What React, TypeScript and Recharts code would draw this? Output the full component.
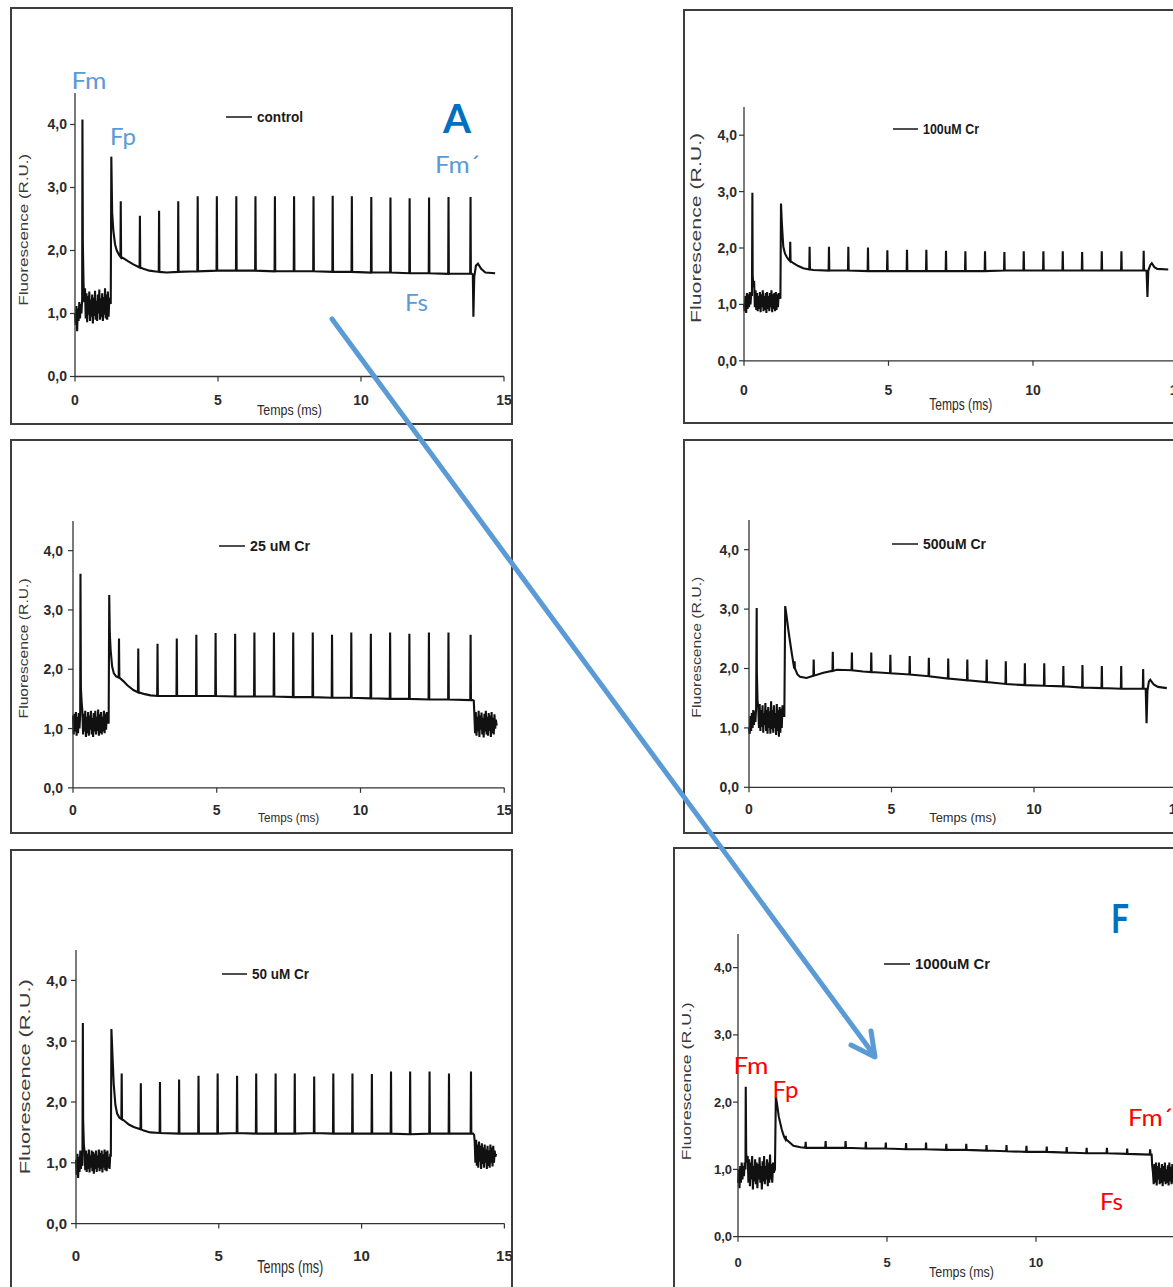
import React from 'react';
import { LineChart, Line, XAxis, YAxis, Legend } from 'recharts';

type Pair = [number, number];

// ms between samples in the noisy (dark / far-red) segments
const SAMPLE = 0.025;
// half width of a saturating pulse spike, ms
const PULSE_HALF = 0.012;

// saturating pulse schedule, same protocol for every treatment
const pulseTimes = [1.6, 2.27, 2.94, 3.61, 4.29, 4.96, 5.64, 6.31, 6.99, 7.66, 8.34, 9.01, 9.68, 10.36, 11.03, 11.7, 12.38, 13.06, 13.83];
const xTicks = [0, 5, 10, 15];
const yTicks = [0, 1, 2, 3, 4];

// ---- control ----
const ctrlDark = [
  1.0, 0.82, 1.12, 0.72, 1.08, 0.88, 1.18, 0.92, 1.15, 1.0,
  1.22, 2.1, 1.45, 1.18, 1.4, 0.92, 1.32, 0.86, 1.28, 0.98,
  1.35, 0.88, 1.22, 0.95, 1.3, 0.84, 1.25, 0.96, 1.36, 0.9,
  1.2, 0.88, 1.3, 1.0, 1.38, 0.9, 1.24, 0.94, 1.32, 0.88,
  1.26, 0.98, 1.4, 0.92, 1.3, 0.9, 1.35, 0.95, 1.25,
];
const ctrlFm: Pair = [0.26, 4.08];
const ctrlInduction: Pair[] = [
  [1.25, 1.15], [1.27, 3.49], [1.3, 2.6], [1.34, 2.32], [1.4, 2.1], [1.46, 2.0], [1.54, 1.93],
  [1.69, 1.88], [1.85, 1.83], [2.04, 1.78], [2.39, 1.71], [2.6, 1.68], [3.2, 1.65],
];
const ctrlPulseTop = [2.78, 2.55, 2.63, 2.78, 2.86, 2.86, 2.86, 2.86, 2.86, 2.86, 2.86, 2.87, 2.86, 2.85, 2.84, 2.83, 2.84, 2.85, 2.85];
const ctrlPulseBase = [1.9, 1.73, 1.66, 1.66, 1.67, 1.68, 1.68, 1.68, 1.67, 1.67, 1.67, 1.66, 1.66, 1.65, 1.65, 1.64, 1.64, 1.63, 1.63];
const ctrlTail: Pair[] = [
  [13.88, 1.63], [13.91, 1.62], [13.93, 0.95], [13.96, 1.58], [14.02, 1.76], [14.09, 1.79],
  [14.2, 1.71], [14.35, 1.65], [14.69, 1.64],
];

// ---- 25 uM Cr ----
const cr25Dark = [
  1.22, 0.9, 1.25, 0.95, 1.28, 0.88, 1.2, 0.92, 1.26, 1.0,
  1.24, 1.68, 1.45, 1.3, 0.9, 1.25, 0.95, 1.3, 0.86, 1.2,
  0.92, 1.28, 0.88, 1.22, 0.98, 1.3, 0.9, 1.18, 0.86, 1.26,
  0.95, 1.3, 0.9, 1.2, 0.96, 1.32, 0.88, 1.24, 0.92, 1.28,
  0.9, 1.2, 0.95, 1.3, 0.92, 1.25, 0.98, 1.28, 1.1,
];
const cr25Fm: Pair = [0.26, 3.61];
const cr25Induction: Pair[] = [
  [1.24, 1.1], [1.26, 3.25], [1.28, 2.6], [1.31, 2.32], [1.36, 2.05], [1.42, 1.93], [1.5, 1.88],
  [1.75, 1.8], [1.89, 1.73], [2.1, 1.65], [2.5, 1.58], [2.7, 1.56],
];
const cr25PulseTop = [2.52, 2.35, 2.43, 2.52, 2.58, 2.61, 2.6, 2.62, 2.62, 2.62, 2.62, 2.58, 2.62, 2.6, 2.62, 2.6, 2.62, 2.62, 2.58];
const cr25PulseBase = [1.86, 1.61, 1.55, 1.55, 1.55, 1.55, 1.54, 1.54, 1.54, 1.53, 1.53, 1.52, 1.52, 1.51, 1.5, 1.5, 1.49, 1.49, 1.48];
const cr25Tail: Pair[] = [[13.9, 1.48], [13.94, 1.47]];
const cr25TailFrom = 13.96;
const cr25TailNoise = [
  1.25, 0.92, 1.28, 0.88, 1.2, 0.95, 1.3, 0.86, 1.22, 0.98,
  1.27, 0.9, 1.18, 0.85, 1.25, 0.95, 1.3, 0.9, 1.2, 0.88,
  1.26, 0.96, 1.22, 0.86, 1.28, 0.92, 1.18, 0.9, 1.24, 1.0, 1.15, 1.05,
];

// ---- 50 uM Cr ----
const cr50Dark = [
  1.05, 0.8, 1.15, 0.75, 1.1, 0.85, 1.2, 0.9, 1.15, 0.95,
  1.72, 1.3, 1.18, 0.88, 1.2, 0.85, 1.15, 0.9, 1.22, 0.84,
  1.12, 0.92, 1.2, 0.86, 1.18, 0.82, 1.15, 0.9, 1.2, 0.85,
  1.12, 0.92, 1.22, 0.86, 1.16, 0.9, 1.2, 0.84, 1.14, 0.92,
  1.22, 0.88, 1.18, 0.86, 1.2, 0.92, 1.1, 0.9, 1.15,
];
const cr50Fm: Pair = [0.24, 3.3];
const cr50Induction: Pair[] = [
  [1.22, 1.1], [1.24, 3.2], [1.28, 2.74], [1.32, 2.3], [1.38, 1.95], [1.44, 1.81], [1.52, 1.74],
  [1.67, 1.7], [1.85, 1.63], [2.02, 1.59], [2.37, 1.53], [2.6, 1.5],
];
const cr50PulseTop = [2.47, 2.31, 2.33, 2.37, 2.43, 2.47, 2.43, 2.47, 2.47, 2.47, 2.42, 2.47, 2.47, 2.46, 2.5, 2.5, 2.5, 2.47, 2.5];
const cr50PulseBase = [1.72, 1.55, 1.49, 1.48, 1.48, 1.48, 1.49, 1.48, 1.48, 1.48, 1.49, 1.48, 1.48, 1.48, 1.48, 1.47, 1.48, 1.48, 1.48];
const cr50Tail: Pair[] = [[13.9, 1.48], [13.94, 1.46]];
const cr50TailFrom = 13.96;
const cr50TailNoise = [
  1.35, 1.0, 1.38, 0.95, 1.3, 0.92, 1.35, 1.02, 1.28, 0.9,
  1.32, 0.98, 1.25, 0.92, 1.3, 1.0, 1.22, 0.9, 1.28, 0.95,
  1.2, 0.92, 1.3, 1.0, 1.25, 0.94, 1.28, 1.0, 1.2, 1.1, 1.15,
];

// ---- 100 uM Cr ----
const cr100Dark = [
  1.0, 0.88, 1.15, 0.85, 1.2, 0.92, 1.18, 0.95, 1.22, 1.0,
  1.2, 1.15, 1.52, 1.3, 1.42, 0.95, 1.25, 0.9, 1.2, 0.88,
  1.15, 0.92, 1.22, 0.86, 1.18, 0.95, 1.25, 0.88, 1.15, 0.9,
  1.2, 0.85, 1.22, 0.92, 1.15, 0.88, 1.2, 0.95, 1.25, 0.86,
  1.18, 0.92, 1.2, 0.88, 1.22, 0.9, 1.18, 0.95, 1.2,
];
const cr100Fm: Pair = [0.29, 2.98];
const cr100Induction: Pair[] = [
  [1.26, 1.1], [1.28, 2.79], [1.31, 2.44], [1.36, 2.02], [1.42, 1.9], [1.48, 1.84], [1.55, 1.79],
  [1.71, 1.73], [1.88, 1.68], [2.05, 1.64], [2.4, 1.61],
];
const cr100PulseTop = [2.11, 2.02, 2.02, 2.02, 2.01, 1.96, 1.97, 1.97, 1.95, 1.94, 1.94, 1.93, 1.94, 1.94, 1.94, 1.93, 1.94, 1.94, 1.95];
const cr100PulseBase = [1.77, 1.62, 1.6, 1.6, 1.59, 1.59, 1.59, 1.59, 1.59, 1.59, 1.59, 1.6, 1.6, 1.6, 1.6, 1.6, 1.6, 1.6, 1.6];
const cr100Tail: Pair[] = [
  [13.9, 1.6], [13.93, 1.59], [13.96, 1.13], [13.99, 1.6], [14.06, 1.7], [14.11, 1.73],
  [14.2, 1.66], [14.3, 1.63], [14.68, 1.62],
];

// ---- 500 uM Cr ----
const cr500Dark = [
  1.0, 0.9, 1.2, 0.95, 1.25, 1.0, 1.3, 1.05, 1.28, 1.1,
  1.35, 1.95, 1.45, 1.35, 1.0, 1.4, 0.95, 1.3, 1.02, 1.38,
  0.92, 1.25, 1.05, 1.42, 0.95, 1.3, 0.9, 1.35, 1.0, 1.28,
  0.9, 1.45, 0.98, 1.3, 0.92, 1.38, 1.0, 1.25, 0.88, 1.4,
  0.95, 1.3, 0.85, 1.35, 0.92, 1.32, 1.0, 1.38, 1.2,
];
const cr500Fm: Pair = [0.27, 3.02];
const cr500Induction: Pair[] = [
  [1.24, 1.2], [1.27, 3.05], [1.3, 2.95], [1.34, 2.8], [1.38, 2.65], [1.44, 2.45], [1.5, 2.26], [1.56, 2.08],
  [1.7, 1.9], [1.79, 1.86], [2.02, 1.84], [2.61, 1.93], [3.08, 1.98], [4.0, 1.95],
];
const cr500PulseTop = [2.12, 2.15, 2.28, 2.27, 2.27, 2.23, 2.21, 2.18, 2.17, 2.15, 2.15, 2.12, 2.09, 2.09, 2.04, 2.06, 2.04, 2.04, 1.99];
const cr500PulseBase = [2.0, 1.88, 1.96, 1.97, 1.94, 1.92, 1.9, 1.87, 1.83, 1.8, 1.77, 1.74, 1.72, 1.71, 1.7, 1.68, 1.67, 1.66, 1.66];
const cr500Tail: Pair[] = [
  [13.9, 1.66], [13.92, 1.66], [13.95, 1.08], [13.98, 1.62], [14.03, 1.78], [14.08, 1.81],
  [14.2, 1.73], [14.35, 1.69], [14.66, 1.67],
];

// ---- 1000 uM Cr ----
const cr1000Dark = [
  0.8, 1.0, 0.72, 1.05, 0.8, 1.1, 0.85, 1.05, 0.9, 1.1,
  1.0, 1.25, 1.1, 1.2, 0.8, 1.15, 0.75, 1.1, 0.85, 1.2,
  0.7, 1.05, 0.82, 1.15, 0.78, 1.1, 0.72, 1.08, 0.85, 1.18,
  0.8, 1.05, 0.7, 1.12, 0.82, 1.2, 0.78, 1.05, 0.85, 1.15,
  0.75, 1.1, 0.8, 1.22, 0.85, 1.08, 0.8, 1.1, 0.95,
];
const cr1000Fm: Pair = [0.26, 2.23];
const cr1000Induction: Pair[] = [
  [1.24, 1.0], [1.27, 2.08], [1.3, 2.0], [1.37, 1.78], [1.47, 1.59], [1.55, 1.48],
  [1.63, 1.44], [1.86, 1.35], [2.1, 1.33],
];
const cr1000PulseTop = [1.5, 1.41, 1.42, 1.42, 1.41, 1.4, 1.39, 1.4, 1.38, 1.38, 1.36, 1.36, 1.35, 1.34, 1.33, 1.32, 1.32, 1.31, 1.3];
const cr1000PulseBase = [1.45, 1.32, 1.32, 1.32, 1.31, 1.31, 1.3, 1.3, 1.29, 1.29, 1.28, 1.27, 1.26, 1.26, 1.25, 1.24, 1.24, 1.23, 1.22];
const cr1000Tail: Pair[] = [[13.88, 1.22], [13.9, 1.05]];
const cr1000TailFrom = 13.925;
const cr1000TailNoise = [
  0.95, 0.78, 1.08, 0.8, 1.1, 0.76, 1.05, 0.85, 1.1, 0.78,
  1.02, 0.8, 1.08, 0.75, 1.05, 0.82, 1.1, 0.78, 1.0, 0.8,
  1.06, 0.76, 1.1, 0.82, 1.04, 0.78, 1.08, 0.8, 1.02, 0.77,
  1.06, 0.84, 1.1, 0.8, 1.0, 0.78, 1.05,
];

interface Series {
  dark: number[];
  fm: Pair;
  induction: Pair[];
  pulseTop: number[];
  pulseBase: number[];
  tail: Pair[];
  tailFrom?: number;
  tailNoise?: number[];
}

type Pt = { t: number; f: number };

// merge the pieces of a PAM trace into one time-ordered series
function buildTrace(s: Series): Pt[] {
  const pts: Pt[] = s.dark.map((f, i) => ({ t: i * SAMPLE, f }));
  pts.push({ t: s.fm[0], f: s.fm[1] });
  s.induction.forEach(([t, f]) => pts.push({ t, f }));
  pulseTimes.forEach((t, i) => {
    pts.push({ t: t - PULSE_HALF, f: s.pulseBase[i] });
    pts.push({ t, f: s.pulseTop[i] });
    pts.push({ t: t + PULSE_HALF, f: s.pulseBase[i] });
  });
  s.tail.forEach(([t, f]) => pts.push({ t, f }));
  (s.tailNoise || []).forEach((f, i) => pts.push({ t: (s.tailFrom || 0) + i * SAMPLE, f }));
  return pts.sort((a, b) => a.t - b.t);
}

const FONT = "'Liberation Sans', Arial, sans-serif";
const ANNOT_FONT = "Lato, 'Open Sans', sans-serif";
const AXIS = '#333';
const INK = '#2b2b2b';

const Y_AXIS_W = 64;
const M_TOP = 12;
const M_RIGHT = 14;
const X_AXIS_H = 62;

interface Panel {
  id: string;
  name: string;
  series: Series;
  frame: [number, number, number, number];
  x0: number; pxu: number; y0: number; pyu: number;
  tickFs: number; yTickGap: number; xTickGap: number;
  yTitle: { x: number; dy: number; len: number; fs: number };
  xTitle: { dy: number; len: number; fs: number };
  legend: { x: number; y: number; line: number; len: number; fs: number };
}

const panels: Panel[] = [
  {
    id: 'ctrl', name: 'control',
    series: { dark: ctrlDark, fm: ctrlFm, induction: ctrlInduction, pulseTop: ctrlPulseTop, pulseBase: ctrlPulseBase, tail: ctrlTail },
    frame: [10, 7, 503, 418],
    x0: 75, pxu: 28.6, y0: 376, pyu: 63,
    tickFs: 14, yTickGap: 3, xTickGap: 14,
    yTitle: { x: 23, dy: -5, len: 152, fs: 13 },
    xTitle: { dy: 34, len: 65, fs: 14 },
    legend: { x: 226, y: 117, line: 26, len: 46, fs: 14 },
  },
  {
    id: 'cr25', name: '25 uM Cr',
    series: { dark: cr25Dark, fm: cr25Fm, induction: cr25Induction, pulseTop: cr25PulseTop, pulseBase: cr25PulseBase, tail: cr25Tail, tailFrom: cr25TailFrom, tailNoise: cr25TailNoise },
    frame: [10, 439, 503, 395],
    x0: 72.5, pxu: 28.75, y0: 787.7, pyu: 59.3,
    tickFs: 14, yTickGap: 5, xTickGap: 12,
    yTitle: { x: 23, dy: -6, len: 140, fs: 13 },
    xTitle: { dy: 30, len: 61, fs: 13 },
    legend: { x: 219, y: 546, line: 26, len: 60, fs: 14 },
  },
  {
    id: 'cr50', name: '50 uM Cr',
    series: { dark: cr50Dark, fm: cr50Fm, induction: cr50Induction, pulseTop: cr50PulseTop, pulseBase: cr50PulseBase, tail: cr50Tail, tailFrom: cr50TailFrom, tailNoise: cr50TailNoise },
    frame: [10, 849, 503, 450],
    x0: 75.5, pxu: 28.56, y0: 1223.3, pyu: 60.8,
    tickFs: 15, yTickGap: 4, xTickGap: 22,
    yTitle: { x: 24, dy: -10, len: 195, fs: 15 },
    xTitle: { dy: 43, len: 66, fs: 18 },
    legend: { x: 222, y: 974, line: 25, len: 57, fs: 15 },
  },
  {
    id: 'cr100', name: '100uM Cr',
    series: { dark: cr100Dark, fm: cr100Fm, induction: cr100Induction, pulseTop: cr100PulseTop, pulseBase: cr100PulseBase, tail: cr100Tail },
    frame: [683, 9, 520, 415],
    x0: 744, pxu: 28.9, y0: 360.7, pyu: 56.4,
    tickFs: 14, yTickGap: 2, xTickGap: 19,
    yTitle: { x: 696.5, dy: -6, len: 190, fs: 14 },
    xTitle: { dy: 43, len: 63, fs: 17 },
    legend: { x: 893, y: 129, line: 25, len: 56, fs: 14 },
  },
  {
    id: 'cr500', name: '500uM Cr',
    series: { dark: cr500Dark, fm: cr500Fm, induction: cr500Induction, pulseTop: cr500PulseTop, pulseBase: cr500PulseBase, tail: cr500Tail },
    frame: [683, 439, 520, 395],
    x0: 749, pxu: 28.5, y0: 787.7, pyu: 59.4,
    tickFs: 14, yTickGap: 5, xTickGap: 12,
    yTitle: { x: 696.5, dy: -6.5, len: 141, fs: 13 },
    xTitle: { dy: 30, len: 67, fs: 13 },
    legend: { x: 892, y: 544, line: 26, len: 63, fs: 14 },
  },
  {
    id: 'cr1000', name: '1000uM Cr',
    series: { dark: cr1000Dark, fm: cr1000Fm, induction: cr1000Induction, pulseTop: cr1000PulseTop, pulseBase: cr1000PulseBase, tail: cr1000Tail, tailFrom: cr1000TailFrom, tailNoise: cr1000TailNoise },
    frame: [673, 847, 530, 450],
    x0: 738, pxu: 29.8, y0: 1236.7, pyu: 67.25,
    tickFs: 13, yTickGap: 1, xTickGap: 16,
    yTitle: { x: 686.5, dy: -4, len: 158, fs: 13 },
    xTitle: { dy: 35, len: 65, fs: 14 },
    legend: { x: 884, y: 964, line: 26, len: 75, fs: 15 },
  },
];

const fmtY = (v: number) => v.toFixed(1).replace('.', ',');

function TracePanel({ p }: { p: Panel }) {
  const data = buildTrace(p.series);
  const plotW = 15 * p.pxu;
  const plotH = 4.5 * p.pyu;
  const left = p.x0 - Y_AXIS_W;
  const top = p.y0 - plotH - M_TOP;
  const width = Y_AXIS_W + plotW + M_RIGHT;
  const height = M_TOP + plotH + X_AXIS_H;
  const tickStyle = { fill: INK, fontSize: p.tickFs, fontWeight: 700, fontFamily: FONT };

  const yTitle = () => {
    const x = p.yTitle.x - left;
    const y = M_TOP + plotH / 2 + p.yTitle.dy;
    return (
      <text
        transform={`translate(${x},${y}) rotate(-90)`}
        textAnchor="middle"
        dy="0.35em"
        fontSize={p.yTitle.fs}
        fontFamily={FONT}
        fill="#3a3a3a"
        textLength={p.yTitle.len}
        lengthAdjust="spacingAndGlyphs"
      >
        Fluorescence (R.U.)
      </text>
    );
  };

  const xTitle = () => (
    <text
      x={Y_AXIS_W + plotW / 2}
      y={M_TOP + plotH + p.xTitle.dy}
      dy="0.35em"
      textAnchor="middle"
      fontSize={p.xTitle.fs}
      fontFamily={FONT}
      fill={INK}
      textLength={p.xTitle.len}
      lengthAdjust="spacingAndGlyphs"
    >
      Temps (ms)
    </text>
  );

  const legend = (props: any) => {
    const label = props?.payload?.[0]?.value ?? p.name;
    return (
      <svg width={p.legend.line + 6 + p.legend.len + 4} height={20} style={{ display: 'block', overflow: 'visible' }}>
        <line x1={0} y1={10} x2={p.legend.line} y2={10} stroke="#222" strokeWidth={1.6} />
        <text
          x={p.legend.line + 5}
          y={10}
          dy="0.35em"
          fontSize={p.legend.fs}
          fontWeight={700}
          fontFamily={FONT}
          fill="#1a1a1a"
          textLength={p.legend.len}
          lengthAdjust="spacingAndGlyphs"
        >
          {label}
        </text>
      </svg>
    );
  };

  return (
    <div style={{ position: 'absolute', left, top, width, height }}>
      <LineChart width={width} height={height} data={data} margin={{ top: M_TOP, right: M_RIGHT, bottom: 0, left: 0 }}>
        <XAxis
          dataKey="t"
          type="number"
          domain={[0, 15]}
          ticks={xTicks}
          interval={0}
          height={X_AXIS_H}
          tickSize={5}
          tickMargin={p.xTickGap}
          axisLine={{ stroke: AXIS, strokeWidth: 1.3 }}
          tickLine={{ stroke: AXIS, strokeWidth: 1.2 }}
          tick={tickStyle}
          label={xTitle}
        />
        <YAxis
          type="number"
          domain={[0, 4.5]}
          ticks={yTicks}
          interval={0}
          width={Y_AXIS_W}
          tickSize={5}
          tickMargin={p.yTickGap}
          tickFormatter={fmtY}
          axisLine={{ stroke: AXIS, strokeWidth: 1.3 }}
          tickLine={{ stroke: AXIS, strokeWidth: 1.2 }}
          tick={tickStyle}
          label={yTitle}
        />
        <Legend
          verticalAlign="middle"
          align="center"
          content={legend}
          wrapperStyle={{ left: p.legend.x - left, top: p.legend.y - 10 - top, width: 'auto', height: 20 }}
        />
        <Line
          type="linear"
          dataKey="f"
          name={p.name}
          stroke="#111"
          strokeWidth={2.1}
          dot={false}
          activeDot={false}
          isAnimationActive={false}
        />
      </LineChart>
    </div>
  );
}

// parameter labels written on the control and 1000 uM traces
const blueNotes: [string, number, number, number][] = [
  ['Fm', 71.5, 88.5, 35],
  ['Fp', 110, 145, 26],
  ['Fm\u00b4', 435, 172.5, 45],
  ['Fs', 405, 310.5, 23],
];
const redNotes: [string, number, number, number][] = [
  ['Fm', 733.5, 1073.5, 35],
  ['Fp', 772.5, 1098, 26],
  ['Fm\u00b4', 1128, 1126, 45],
  ['Fs', 1100, 1209.5, 23],
];

export default function App() {
  return (
    <div style={{ position: 'absolute', left: 0, top: 0, width: 1173, height: 1287, overflow: 'hidden', background: '#fff' }}>
      {panels.map((p) => (
        <div
          key={`frame-${p.id}`}
          style={{
            position: 'absolute',
            left: p.frame[0],
            top: p.frame[1],
            width: p.frame[2],
            height: p.frame[3],
            border: '2px solid #3d3d3d',
            boxSizing: 'border-box',
          }}
        />
      ))}
      {panels.map((p) => (
        <TracePanel key={p.id} p={p} />
      ))}
      <svg width={1173} height={1287} style={{ position: 'absolute', left: 0, top: 0, pointerEvents: 'none' }}>
        {blueNotes.map(([t, x, y, len]) => (
          <text key={`b-${t}`} x={x} y={y} fontSize={24} fontFamily={ANNOT_FONT} fill="#5b9bd5" textLength={len} lengthAdjust="spacingAndGlyphs">
            {t}
          </text>
        ))}
        {redNotes.map(([t, x, y, len]) => (
          <text key={`r-${t}`} x={x} y={y} fontSize={24} fontFamily={ANNOT_FONT} fill="#ff0000" textLength={len} lengthAdjust="spacingAndGlyphs">
            {t}
          </text>
        ))}
        <text x={443} y={132.5} fontSize={41} fontWeight={700} fontFamily={ANNOT_FONT} fill="#0070c0" textLength={28} lengthAdjust="spacingAndGlyphs">
          A
        </text>
        <text x={1111} y={932.5} fontSize={41} fontWeight={700} fontFamily={ANNOT_FONT} fill="#0070c0" textLength={18} lengthAdjust="spacingAndGlyphs">
          F
        </text>
        <line x1={332} y1={319} x2={874} y2={1055} stroke="#5b9bd5" strokeWidth={5} strokeLinecap="round" />
        <polyline points="851,1045 875,1057 871,1031" fill="none" stroke="#5b9bd5" strokeWidth={5} strokeLinecap="round" strokeLinejoin="round" />
      </svg>
    </div>
  );
}
